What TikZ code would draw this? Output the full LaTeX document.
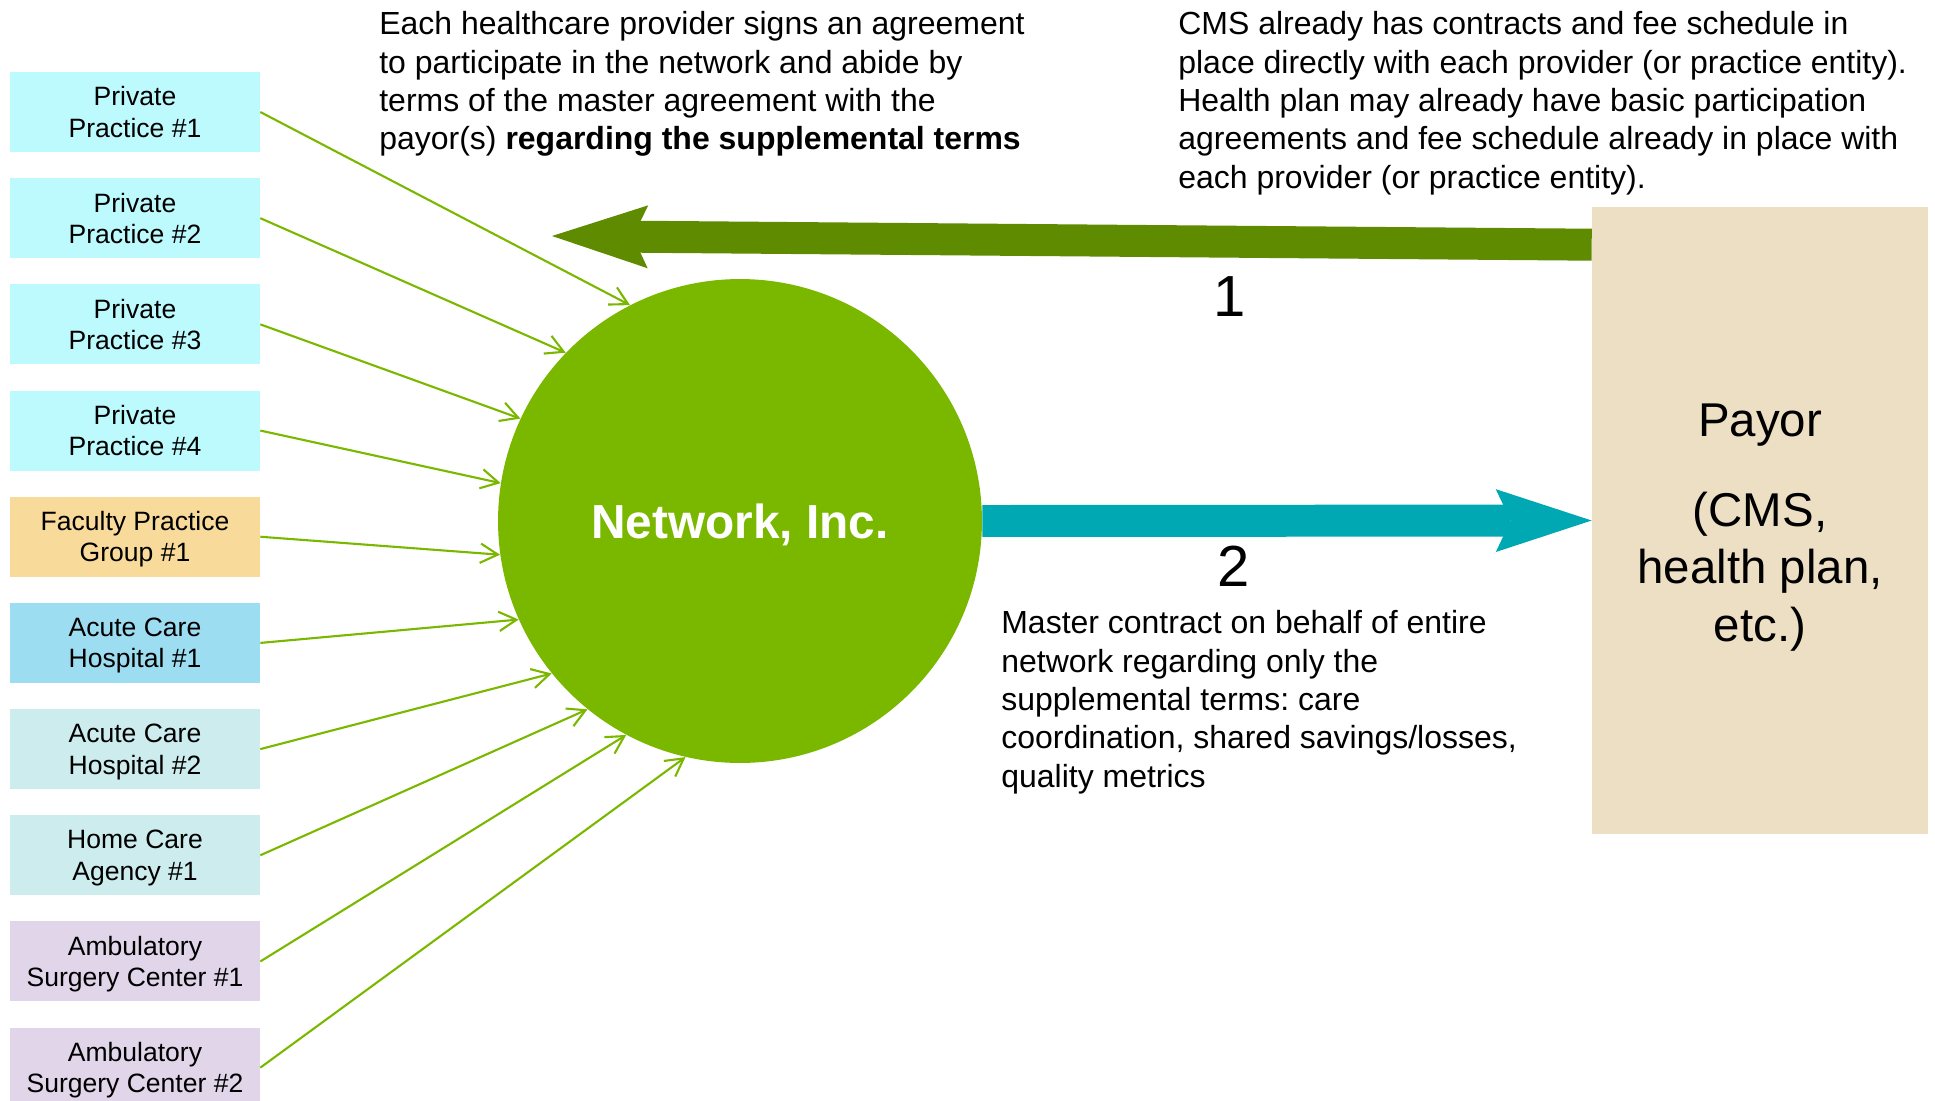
\documentclass[tikz,border=0pt]{standalone}
\usepackage{fontspec}
\setmainfont{Liberation Sans}
\usepackage{tikz}
\usetikzlibrary{arrows.meta,positioning}
\frenchspacing
\definecolor{practiceC}{RGB}{189,250,253}
\definecolor{facultyC}{RGB}{248,219,154}
\definecolor{hospitalC}{RGB}{157,221,242}
\definecolor{careC}{RGB}{204,236,238}
\definecolor{surgeryC}{RGB}{225,213,234}
\definecolor{payorC}{RGB}{237,223,195}
\definecolor{netgreen}{RGB}{122,184,0}
\definecolor{darkgreen}{RGB}{94,139,0}
\definecolor{contractteal}{RGB}{0,168,179}

\begin{document}
\begin{tikzpicture}[
  x=0.02cm, y=-0.02cm,
  node distance=0.51cm,
  box/.style={rectangle, minimum width=5cm, minimum height=1.6cm, inner sep=0pt,
              align=center, text depth=0pt, font=\fontsize{15.1}{17.8}\selectfont},
  privbox/.style={box, fill=practiceC},
  facbox/.style={box, fill=facultyC},
  hospbox/.style={box, fill=hospitalC},
  carebox/.style={box, fill=careC},
  ambbox/.style={box, fill=surgeryC},
  payorbox/.style={rectangle, fill=payorC, minimum width=6.72cm, minimum height=12.54cm,
              align=center, font=\fontsize{27}{32.7}\selectfont},
  netcircle/.style={circle, fill=netgreen, minimum size=9.68cm, inner sep=0pt,
              text=white, text depth=0pt, font=\bfseries\fontsize{27.2}{32}\selectfont},
  para/.style={anchor=north west, inner sep=0pt, align=left,
              font=\fontsize{18.2}{21.9}\selectfont},
  numlabel/.style={inner sep=0pt, font=\fontsize{33}{36}\selectfont},
  feed/.style={-{Straight Barb[length=10pt, width=11pt]}, line width=1.2pt, netgreen},
  bigarr/.style={-{Stealth[length=54.6pt, width=35.8pt, inset=8.5pt, line width=0pt]},
              line width=18.2pt}
]
\useasboundingbox (0,0) rectangle (1935,1100);

%% ---- Providers (left column) ----
\node[privbox] (pp1) at (135,112) {Private\\Practice \#1};
\node[privbox, below=of pp1] (pp2) {Private\\Practice \#2};
\node[privbox, below=of pp2] (pp3) {Private\\Practice \#3};
\node[privbox, below=of pp3] (pp4) {Private\\Practice \#4};
\node[facbox,  below=of pp4] (fpg1) {Faculty Practice\\Group \#1};
\node[hospbox, below=of fpg1] (ach1) {Acute Care\\Hospital \#1};
\node[carebox, below=of ach1] (ach2) {Acute Care\\Hospital \#2};
\node[carebox, below=of ach2] (hca1) {Home Care\\Agency \#1};
\node[ambbox,  below=of hca1] (asc1) {Ambulatory\\Surgery Center \#1};
\node[ambbox,  below=of asc1] (asc2) {Ambulatory\\Surgery Center \#2};

%% ---- Network (centre) and payor (right) ----
\node[netcircle] (net) at (740,521) {Network, Inc.};
\node[payorbox] (payor) at (1760,520.5)
  {\rule{0pt}{26.5pt}Payor\\[18.5pt](CMS,\\health plan,\\etc.)};
\coordinate (tip1) at (552,236);

%% ---- Explanatory texts ----
\node[para] (signtext) at (379,11)
  {Each healthcare provider signs an agreement\\to participate in the network and abide by\\terms of the master agreement with the\\payor(s) \textbf{regarding the supplemental terms}};
\node[para] (cmstext) at (1178,11)
  {CMS already has contracts and fee schedule in\\place directly with each provider (or practice entity).\\Health plan may already have basic participation\\agreements and fee schedule already in place with\\each provider (or practice entity).};
\node[para] (mastertext) at (1001,610)
  {Master contract on behalf of entire\\network regarding only the\\supplemental terms: care\\coordination, shared savings/losses,\\quality metrics};

%% ---- Provider agreements ----
\draw[feed] (pp1.east)  -- (net.117);
\draw[feed] (pp2.east)  -- (net.136);
\draw[feed] (pp3.east)  -- (net.155);
\draw[feed] (pp4.east)  -- (net.171);
\draw[feed] (fpg1.east) -- (net.188);
\draw[feed] (ach1.east) -- (net.204.5);
\draw[feed] (ach2.east) -- (net.219);
\draw[feed] (hca1.east) -- (net.231.5);
\draw[feed] (asc1.east) -- (net.242.5);
\draw[feed] (asc2.east) -- (net.257.5);

%% ---- Contracts with the payor ----
\draw[bigarr, darkgreen] ([yshift=-0.76cm]payor.north west) -- (tip1);
\node[numlabel] (lbl1) at (1230,297) {1};
\draw[bigarr, contractteal] (net.east) -- (payor.west);
\node[numlabel] (lbl2) at (1234,566) {2};
\end{tikzpicture}
\end{document}
